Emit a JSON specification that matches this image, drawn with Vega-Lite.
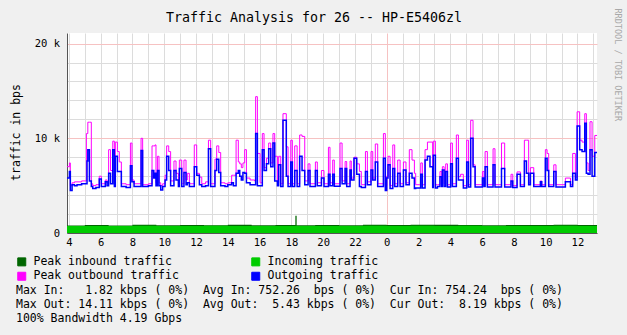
{
 "$schema": "https://vega.github.io/schema/vega-lite/v6.json",
 "width": 530,
 "height": 200,
 "autosize": {"type": "none"},
 "padding": {"left": 67, "top": 33, "right": 30, "bottom": 102},
 "background": "#f0f0f0",
 "config": {"font": "DejaVu Sans Mono", "view": {"stroke": null, "fill": "#ffffff"}},
 "datasets": {
  "inb": [
   {"t":3.88,"i":0.74,"q":0.80},{"t":5.0,"i":0.75,"q":0.84},{"t":6.5,"i":0.74,"q":0.80},{"t":8.0,"i":0.76,"q":0.86},
   {"t":9.5,"i":0.75,"q":0.82},{"t":11.0,"i":0.74,"q":0.85},{"t":12.5,"i":0.76,"q":0.81},{"t":14.0,"i":0.75,"q":0.86},
   {"t":15.5,"i":0.74,"q":0.82},{"t":17.0,"i":0.75,"q":0.84},{"t":18.25,"i":0.76,"q":1.82},{"t":18.33,"i":0.75,"q":0.83},
   {"t":19.5,"i":0.74,"q":0.85},{"t":21.0,"i":0.75,"q":0.82},{"t":22.5,"i":0.76,"q":0.86},{"t":24.0,"i":0.75,"q":0.84},
   {"t":25.5,"i":0.76,"q":0.87},{"t":27.0,"i":0.75,"q":0.86},{"t":28.5,"i":0.76,"q":0.85},{"t":30.0,"i":0.75,"q":0.83},
   {"t":31.5,"i":0.74,"q":0.85},{"t":33.0,"i":0.75,"q":0.84},{"t":34.5,"i":0.76,"q":0.86},{"t":36.0,"i":0.75,"q":0.84},
   {"t":37.25,"i":0.75,"q":0.84}
  ],
  "out": [
   {"t":3.88,"o":5.8,"p":7.0},{"t":4.03,"o":6.5,"p":7.4},{"t":4.09,"o":4.5,"p":5.0},{"t":4.20,"o":5.1,"p":5.3},
   {"t":4.35,"o":5.0,"p":5.4},{"t":4.51,"o":5.1,"p":5.4},{"t":4.80,"o":5.2,"p":5.5},{"t":5.10,"o":5.2,"p":10.5},
   {"t":5.14,"o":7.6,"p":10.5},{"t":5.19,"o":8.8,"p":11.7},{"t":5.29,"o":5.5,"p":11.7},{"t":5.41,"o":4.9,"p":5.2},
   {"t":5.50,"o":4.7,"p":5.0},{"t":5.70,"o":4.8,"p":5.1},{"t":5.91,"o":5.7,"p":6.0},{"t":6.04,"o":4.9,"p":5.2},
   {"t":6.29,"o":5.4,"p":5.6},{"t":6.40,"o":5.0,"p":5.3},{"t":6.50,"o":6.3,"p":8.8},{"t":6.62,"o":5.2,"p":6.6},
   {"t":6.76,"o":8.8,"p":9.7},{"t":6.86,"o":4.9,"p":5.3},{"t":6.92,"o":8.1,"p":9.6},{"t":7.05,"o":6.5,"p":8.6},
   {"t":7.17,"o":6.5,"p":7.5},{"t":7.30,"o":4.9,"p":5.2},{"t":7.60,"o":4.8,"p":5.1},{"t":7.87,"o":7.1,"p":9.5},
   {"t":7.97,"o":5.4,"p":5.6},{"t":8.10,"o":4.9,"p":5.2},{"t":8.54,"o":8.7,"p":10.0},{"t":8.64,"o":4.9,"p":5.1},
   {"t":9.00,"o":5.0,"p":5.2},{"t":9.23,"o":6.6,"p":9.2},{"t":9.34,"o":5.8,"p":9.2},{"t":9.42,"o":6.3,"p":9.3},
   {"t":9.48,"o":5.0,"p":5.3},{"t":9.57,"o":6.6,"p":8.1},{"t":9.67,"o":5.0,"p":5.3},{"t":9.78,"o":4.55,"p":5.0},
   {"t":9.90,"o":4.9,"p":5.2},{"t":10.05,"o":5.6,"p":6.1},{"t":10.15,"o":8.1,"p":9.2},{"t":10.28,"o":6.6,"p":8.6},
   {"t":10.40,"o":5.0,"p":5.5},{"t":10.61,"o":6.6,"p":7.6},{"t":10.74,"o":5.6,"p":6.3},{"t":10.89,"o":4.9,"p":5.2},
   {"t":10.95,"o":6.8,"p":7.7},{"t":11.10,"o":4.9,"p":5.2},{"t":11.24,"o":6.4,"p":7.7},{"t":11.37,"o":5.1,"p":5.6},
   {"t":11.45,"o":5.3,"p":6.3},{"t":11.58,"o":4.9,"p":5.2},{"t":11.89,"o":7.0,"p":9.3},{"t":12.04,"o":6.1,"p":6.3},
   {"t":12.21,"o":5.1,"p":5.9},{"t":12.36,"o":4.9,"p":5.2},{"t":12.60,"o":5.0,"p":5.4},{"t":12.78,"o":8.9,"p":9.8},
   {"t":12.92,"o":4.9,"p":5.2},{"t":13.19,"o":6.6,"p":7.8},{"t":13.30,"o":7.8,"p":9.2},{"t":13.43,"o":6.4,"p":8.5},
   {"t":13.55,"o":5.0,"p":5.3},{"t":13.82,"o":4.9,"p":5.2},{"t":14.00,"o":5.1,"p":5.3},{"t":14.24,"o":5.3,"p":6.1},
   {"t":14.35,"o":5.0,"p":6.1},{"t":14.52,"o":6.3,"p":9.8},{"t":14.66,"o":6.6,"p":7.5},{"t":14.75,"o":6.0,"p":7.3},
   {"t":14.85,"o":5.6,"p":6.9},{"t":14.95,"o":6.4,"p":7.4},{"t":15.06,"o":6.3,"p":8.8},{"t":15.17,"o":5.3,"p":5.8},
   {"t":15.40,"o":5.1,"p":5.6},{"t":15.69,"o":5.1,"p":5.5},{"t":15.75,"o":10.5,"p":14.4},{"t":15.86,"o":5.0,"p":8.4},
   {"t":16.03,"o":5.0,"p":5.3},{"t":16.17,"o":8.8,"p":10.5},{"t":16.28,"o":6.6,"p":6.9},{"t":16.43,"o":7.3,"p":7.9},
   {"t":16.57,"o":8.9,"p":9.5},{"t":16.70,"o":7.0,"p":7.4},{"t":16.84,"o":9.5,"p":10.5},{"t":16.95,"o":5.5,"p":8.1},
   {"t":17.12,"o":5.0,"p":5.3},{"t":17.20,"o":7.2,"p":8.1},{"t":17.33,"o":4.9,"p":5.2},{"t":17.47,"o":11.9,"p":12.6},
   {"t":17.68,"o":6.0,"p":9.1},{"t":17.79,"o":4.9,"p":5.2},{"t":17.96,"o":7.5,"p":9.8},{"t":18.06,"o":4.9,"p":5.2},
   {"t":18.21,"o":6.6,"p":9.2},{"t":18.36,"o":4.9,"p":5.2},{"t":18.52,"o":8.1,"p":10.35},{"t":18.67,"o":6.6,"p":10.2},
   {"t":18.84,"o":5.1,"p":5.5},{"t":19.05,"o":6.6,"p":7.3},{"t":19.17,"o":4.9,"p":5.2},{"t":19.51,"o":6.6,"p":7.5},
   {"t":19.63,"o":5.0,"p":5.3},{"t":19.89,"o":5.8,"p":6.6},{"t":20.05,"o":4.9,"p":5.2},{"t":20.33,"o":6.2,"p":9.05},
   {"t":20.43,"o":5.0,"p":5.3},{"t":20.60,"o":6.2,"p":7.7},{"t":20.70,"o":4.95,"p":5.2},{"t":21.06,"o":6.8,"p":9.5},
   {"t":21.19,"o":5.2,"p":5.5},{"t":21.38,"o":6.8,"p":7.55},{"t":21.48,"o":4.9,"p":5.2},{"t":21.69,"o":6.65,"p":7.6},
   {"t":21.77,"o":5.6,"p":5.8},{"t":21.94,"o":7.9,"p":8.0},{"t":22.11,"o":6.2,"p":7.3},{"t":22.28,"o":4.9,"p":6.5},
   {"t":22.40,"o":4.8,"p":5.1},{"t":22.66,"o":6.5,"p":8.6},{"t":22.78,"o":5.1,"p":5.4},{"t":23.01,"o":6.65,"p":8.6},
   {"t":23.12,"o":5.6,"p":5.8},{"t":23.28,"o":7.5,"p":9.4},{"t":23.43,"o":4.9,"p":5.2},{"t":23.79,"o":7.9,"p":10.5},
   {"t":23.91,"o":4.5,"p":5.0},{"t":24.00,"o":5.8,"p":6.0},{"t":24.08,"o":7.2,"p":8.1},{"t":24.21,"o":4.7,"p":5.0},
   {"t":24.38,"o":6.8,"p":9.3},{"t":24.50,"o":4.9,"p":5.2},{"t":24.69,"o":6.3,"p":7.7},{"t":24.84,"o":4.9,"p":5.2},
   {"t":25.05,"o":6.65,"p":7.5},{"t":25.21,"o":5.1,"p":5.3},{"t":25.42,"o":6.3,"p":8.8},{"t":25.59,"o":5.8,"p":7.7},
   {"t":25.74,"o":4.7,"p":6.3},{"t":25.82,"o":4.75,"p":5.1},{"t":26.14,"o":6.2,"p":7.4},{"t":26.24,"o":4.75,"p":5.1},
   {"t":26.41,"o":7.7,"p":8.8},{"t":26.56,"o":8.1,"p":9.6},{"t":26.72,"o":7.0,"p":9.6},{"t":26.89,"o":4.8,"p":5.1},
   {"t":26.93,"o":8.2,"p":9.7},{"t":27.06,"o":4.75,"p":5.1},{"t":27.19,"o":4.9,"p":5.1},{"t":27.35,"o":5.95,"p":6.5},
   {"t":27.46,"o":4.9,"p":5.2},{"t":27.50,"o":6.65,"p":7.0},{"t":27.61,"o":4.9,"p":5.2},{"t":27.71,"o":6.5,"p":7.3},
   {"t":27.82,"o":4.85,"p":5.1},{"t":28.02,"o":7.3,"p":9.5},{"t":28.13,"o":4.9,"p":5.2},{"t":28.38,"o":7.9,"p":10.35},
   {"t":28.51,"o":5.6,"p":5.95},{"t":28.65,"o":5.6,"p":6.2},{"t":28.82,"o":4.75,"p":5.0},{"t":29.03,"o":7.5,"p":9.8},
   {"t":29.14,"o":4.85,"p":5.1},{"t":29.28,"o":10.0,"p":11.9},{"t":29.43,"o":7.0,"p":7.2},{"t":29.56,"o":4.85,"p":5.1},
   {"t":30.02,"o":5.8,"p":6.5},{"t":30.12,"o":4.9,"p":5.1},{"t":30.19,"o":7.0,"p":8.6},{"t":30.33,"o":4.85,"p":5.1},
   {"t":30.69,"o":7.2,"p":8.9},{"t":30.81,"o":4.85,"p":5.1},{"t":31.22,"o":6.8,"p":9.5},{"t":31.42,"o":4.85,"p":5.1},
   {"t":31.82,"o":5.5,"p":6.2},{"t":31.93,"o":4.8,"p":5.0},{"t":32.20,"o":6.2,"p":6.45},{"t":32.41,"o":4.9,"p":5.1},
   {"t":32.66,"o":7.6,"p":9.8},{"t":32.79,"o":6.3,"p":9.8},{"t":32.93,"o":5.1,"p":5.3},{"t":33.04,"o":6.3,"p":6.9},
   {"t":33.25,"o":4.9,"p":5.1},{"t":33.67,"o":5.4,"p":5.5},{"t":33.75,"o":4.9,"p":5.1},{"t":33.98,"o":7.9,"p":8.8},
   {"t":34.09,"o":6.6,"p":8.4},{"t":34.19,"o":4.9,"p":5.1},{"t":34.51,"o":6.5,"p":7.2},{"t":34.65,"o":4.85,"p":5.1},
   {"t":35.24,"o":5.4,"p":5.8},{"t":35.56,"o":4.9,"p":5.1},{"t":35.70,"o":6.3,"p":8.4},{"t":35.87,"o":5.6,"p":5.9},
   {"t":35.98,"o":11.3,"p":12.8},{"t":36.14,"o":8.8,"p":9.8},{"t":36.29,"o":8.6,"p":9.6},{"t":36.46,"o":11.6,"p":12.6},
   {"t":36.56,"o":6.3,"p":7.4},{"t":36.67,"o":6.2,"p":6.6},{"t":36.79,"o":8.8,"p":11.75},{"t":36.92,"o":6.0,"p":8.1},
   {"t":37.09,"o":8.5,"p":10.3},{"t":37.25,"o":8.5,"p":10.3}
  ]
 },
 "layer": [
  {
   "layer": [
    {
     "data": {"name": "inb"},
     "mark": {"type": "area", "interpolate": "step-after", "clip": true, "opacity": 1},
     "encoding": {
      "x": {"field": "t", "type": "quantitative", "scale": {"domain": [3.88, 37.23], "nice": false, "zero": false},
       "axis": {"values": [4,5,6,7,8,9,10,11,12,13,14,15,16,17,18,19,20,21,22,23,24,25,26,27,28,29,30,31,32,33,34,35,36,37],
        "tickCount": 200,
        "labelExpr": "datum.value % 2 == 0 ? '' + (datum.value % 24) : ''",
        "title": null, "ticks": false, "grid": true,
        "gridColor": {"condition": {"test": "datum.value == 24", "value": "#f6c2c2"}, "value": "#dcdcdc"},
        "domainColor": "#555555", "labelFont": "DejaVu Sans Mono", "labelFontSize": 10.5, "labelColor": "#000000",
        "labelPadding": 4, "labelOverlap": false, "labelFlush": false, "labelBound": false}},
      "y": {"field": "q", "type": "quantitative", "scale": {"domain": [0, 21.12], "nice": false}, "stack": null,
       "axis": {"values": [0,2,4,6,8,10,12,14,16,18,20],
        "tickCount": 200,
        "labelExpr": "datum.value == 0 ? '0' : (datum.value % 10 == 0 ? datum.value + ' k' : '')",
        "title": "traffic in bps", "titleFont": "DejaVu Sans Mono", "titleFontSize": 11.5, "titleFontWeight": "normal",
        "titleColor": "#000000", "titleX": -51, "titleY": 99, "titleAngle": -90, "titleAlign": "center", "titleBaseline": "middle",
        "ticks": false, "labelPadding": 7.5, "labelFont": "DejaVu Sans Mono", "labelFontSize": 10.5, "labelColor": "#000000",
        "labelOverlap": false, "labelFlush": false,
        "domainColor": "#555555", "grid": true,
        "gridColor": {"condition": {"test": "datum.value % 10 == 0", "value": "#f6c2c2"}, "value": "#dcdcdc"}}},
      "color": {"datum": "Peak inbound traffic", "type": "nominal",
       "scale": {"domain": ["Peak inbound traffic", "Incoming traffic", "Peak outbound traffic", "Outgoing traffic"],
        "range": ["#006600", "#00cc00", "#ff00ff", "#0000ff"]},
       "legend": {"orient": "none", "legendX": -51, "legendY": 223, "columns": 2, "direction": "horizontal",
        "title": ["Max\u00a0In:\u00a0\u00a0\u00a01.82\u00a0kbps\u00a0(\u00a00%)\u00a0\u00a0Avg\u00a0In:\u00a0752.26\u00a0\u00a0bps\u00a0(\u00a00%)\u00a0\u00a0Cur\u00a0In:\u00a0754.24\u00a0\u00a0bps\u00a0(\u00a00%)",
                  "Max\u00a0Out:\u00a014.11\u00a0kbps\u00a0(\u00a00%)\u00a0\u00a0Avg\u00a0Out:\u00a0\u00a05.43\u00a0kbps\u00a0(\u00a00%)\u00a0\u00a0Cur\u00a0Out:\u00a0\u00a08.19\u00a0kbps\u00a0(\u00a00%)",
                  "100%\u00a0Bandwidth\u00a04.19\u00a0Gbps"],
        "titleOrient": "bottom", "titleAnchor": "start", "titleAlign": "left", "titleBaseline": "top", "titlePadding": 3,
        "titleLineHeight": 14, "titleFont": "DejaVu Sans Mono", "titleFontSize": 11.5, "titleFontWeight": "normal",
        "titleColor": "#000000", "titleLimit": 1000,
        "labelFont": "DejaVu Sans Mono", "labelFontSize": 11.5, "labelColor": "#000000", "labelLimit": 400, "labelOffset": 6,
        "symbolType": "square", "symbolSize": 64, "symbolStrokeColor": "#000000", "symbolStrokeWidth": 1, "symbolOpacity": 1,
        "columnPadding": 70, "rowPadding": 1.5,
        "encode": {"symbols": {"update": {"fill": {"scale": "color", "field": "value"}, "stroke": {"value": "#000000"},
          "strokeWidth": {"value": 1}, "shape": {"value": "square"}, "opacity": {"value": 1}, "fillOpacity": {"value": 1}}}}}}
     }
    },
    {
     "data": {"name": "inb"},
     "mark": {"type": "area", "interpolate": "step-after", "clip": true, "opacity": 1},
     "encoding": {
      "x": {"field": "t", "type": "quantitative"},
      "y": {"field": "i", "type": "quantitative", "stack": null},
      "color": {"datum": "Incoming traffic", "type": "nominal"}
     }
    },
    {
     "data": {"name": "out"},
     "mark": {"type": "line", "interpolate": "step-after", "clip": true, "strokeWidth": 1},
     "encoding": {
      "x": {"field": "t", "type": "quantitative"},
      "y": {"field": "p", "type": "quantitative"},
      "color": {"datum": "Peak outbound traffic", "type": "nominal"}
     }
    },
    {
     "data": {"name": "out"},
     "mark": {"type": "line", "interpolate": "step-after", "clip": true, "strokeWidth": 1.5},
     "encoding": {
      "x": {"field": "t", "type": "quantitative"},
      "y": {"field": "o", "type": "quantitative"},
      "color": {"datum": "Outgoing traffic", "type": "nominal"}
     }
    }
   ]
  },
  {
   "data": {"name": "out"},
   "mark": {"type": "line", "opacity": 0},
   "encoding": {
    "x": {"field": "t", "type": "quantitative",
     "axis": {"orient": "top", "labels": false, "ticks": false, "domain": false, "grid": false,
      "title": "Traffic Analysis for 26 -- HP-E5406zl", "titleX": 246.5, "titleY": -11.5, "titleAlign": "center",
      "titleBaseline": "alphabetic", "titleFont": "DejaVu Sans Mono", "titleFontSize": 13.3, "titleFontWeight": "normal",
      "titleColor": "#000000"}},
    "y": {"field": "o", "type": "quantitative",
     "axis": {"orient": "right", "labels": false, "ticks": false, "domain": false, "grid": false,
      "title": "RRDTOOL / TOBI OETIKER", "titleAngle": 90, "titleX": 20, "titleY": -25, "titleAlign": "left",
      "titleBaseline": "middle", "titleFont": "DejaVu Sans Mono", "titleFontSize": 8.5, "titleFontWeight": "normal",
      "titleColor": "#a8a8a8"}}
   }
  }
 ],
 "resolve": {"axis": {"x": "independent", "y": "independent"}}
}
